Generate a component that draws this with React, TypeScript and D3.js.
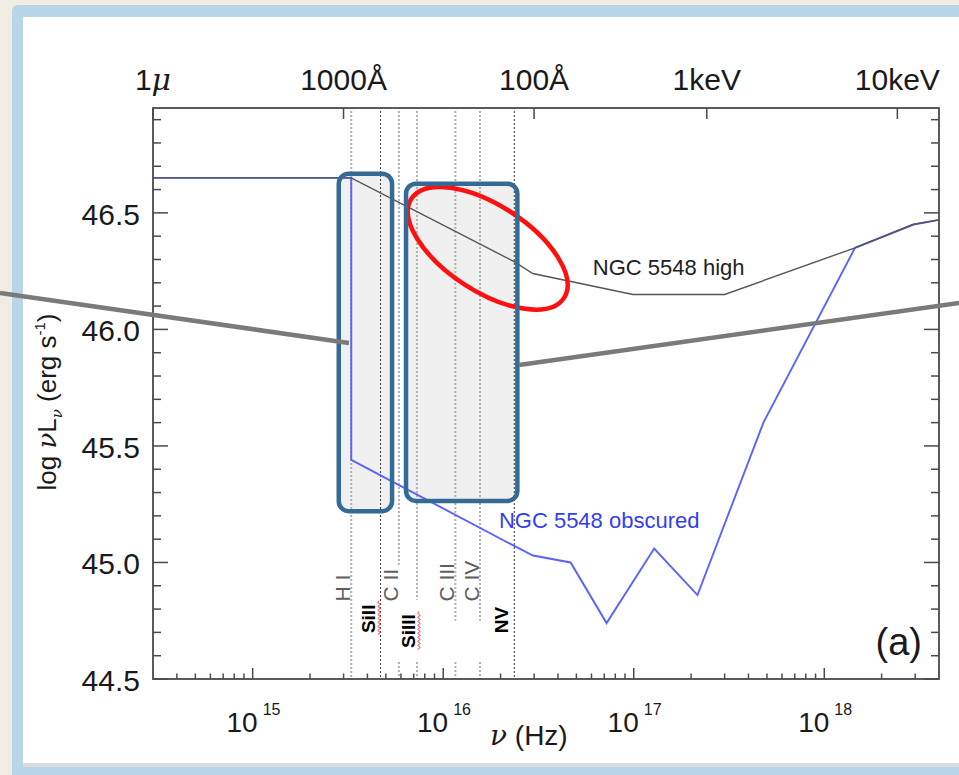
import React from 'react';
import * as d3 from 'd3';

// SED of NGC 5548, unobscured (high) state: frequency (Hz) and log nuL_nu
const highNu = [3.0e14, 3.29e15, 2.37e16, 2.95e16, 9.9e16, 3.0e17, 1.45e18, 2.92e18, 4.0e18];
const highL = [46.65, 46.65, 46.29, 46.24, 46.15, 46.15, 46.35, 46.45, 46.47];

// obscured state
const obsNu = [3.0e14, 3.29e15, 3.29e15, 2.37e16, 2.96e16, 4.66e16, 7.2e16, 1.28e17, 2.16e17, 4.79e17, 1.45e18, 2.94e18, 4.0e18];
const obsL = [46.65, 46.65, 45.44, 45.07, 45.03, 45.0, 44.74, 45.06, 44.86, 45.6, 46.35, 46.45, 46.47];

// axes
const yMajor = [44.5, 45.0, 45.5, 46.0, 46.5];
const xDecades = [15, 16, 17, 18];
const topTickNu = [2.998e14, 2.998e15, 2.998e16, 2.418e17, 2.418e18];
const topTickLabels = ['1', '1000Å', '100Å', '1keV', '10keV'];

// ionisation edges
const edgeNu = [3.29e15, 4.69e15, 5.85e15, 7.28e15, 1.158e16, 1.56e16, 2.36e16];
const edgeLabels = ['H I', 'SiII', 'C II', 'SiIII', 'C III', 'C IV', 'NV'];
const edgeDashed = [false, true, false, false, false, false, true];
const edgeBreak = [null, null, 44.99, 44.84, 44.75, 44.75, null];

// annotation boxes [nuLo, nuHi, Llo, Lhi]
const boxes = [
  [2.83e15, 5.39e15, 45.22, 46.668],
  [6.38e15, 2.45e16, 45.264, 46.625],
];
// callout lines [nu1, L1, nu2, L2]
const callouts = [
  [4.72e13, 46.156, 3.2e15, 45.942],
  [2.5e16, 45.847, 5.1e18, 46.113],
];
const ellipseCenter = [1.712e16, 46.348];

const FONT = '"Liberation Sans", Arial, Helvetica, sans-serif';
const GREEK = '"DejaVu Serif", serif';

function squiggle(xp: number, ya: number, yb: number) {
  let d = `M${xp},${ya}`;
  let k = 0;
  for (let yy = ya; yy < yb; yy += 2, k++) d += `L${xp + (k % 2 ? 1.3 : -1.3)},${yy + 2}`;
  return d;
}

export default function App() {
  const x = d3.scaleLog().domain([2.998e14, 4.0e18]).range([153, 939]);
  const y = d3.scaleLinear().domain([44.5, 46.95]).range([679, 108]);
  const [xl, xr] = x.range();
  const [yb, yt] = y.range();

  const line = d3.line<[number, number]>().x(d => x(d[0])).y(d => y(d[1]));
  const highPts = highNu.map((n, i) => [n, highL[i]] as [number, number]);
  const obsPts = obsNu.map((n, i) => [n, obsL[i]] as [number, number]);

  const yMinor = d3.range(0, 25).map(i => 44.5 + i * 0.1);
  const xTicks = x.ticks().filter(t => x(t) > xl + 1 && x(t) < xr - 1);
  const isMajor = (t: number) => Math.abs(Math.log10(t) - Math.round(Math.log10(t))) < 1e-6;

  const axisColor = '#4a4a4a';

  return (
    <svg width={959} height={775} style={{ position: 'absolute', left: 0, top: 0 }} fontFamily={FONT}>
      {/* slide frame */}
      <rect x={0} y={0} width={959} height={775} fill="#f1ede5" />
      <rect x={12} y={5} width={970} height={790} rx={6} fill="#b9d5ea" />
      <rect x={23} y={17} width={950} height={750} fill="#dcdcdc" />
      <rect x={23} y={17} width={950} height={746} fill="#ffffff" />

      {/* box fills */}
      {boxes.map((b, i) => (
        <rect key={'bf' + i} x={x(b[0])} y={y(b[3])} width={x(b[1]) - x(b[0])} height={y(b[2]) - y(b[3])}
          rx={10} fill="#f0f0f0" />
      ))}

      {/* edge lines */}
      {edgeNu.map((n, i) => {
        const xp = x(n);
        if (edgeDashed[i]) {
          return <line key={'e' + i} x1={xp} x2={xp} y1={yt + 3} y2={yb} stroke="#333" strokeWidth={1}
            strokeDasharray="2 2" />;
        }
        const br = edgeBreak[i];
        const st = { stroke: '#b0b0b0', strokeWidth: 2, strokeDasharray: '2 2' };
        return br === null ? (
          <line key={'e' + i} x1={xp} x2={xp} y1={yt + 3} y2={yb} {...st} />
        ) : (
          <g key={'e' + i}>
            <line x1={xp} x2={xp} y1={yt + 3} y2={y(br)} {...st} />
            <line x1={xp} x2={xp} y1={y(44.573)} y2={yb} {...st} />
          </g>
        );
      })}

      {/* edge labels */}
      {edgeLabels.map((lab, i) => {
        const xp = x(edgeNu[i]);
        const bold = edgeDashed[i] || lab === 'SiIII';
        const dx = lab === 'SiII' || lab === 'NV' ? -6 : lab === 'SiIII' ? -2 : -1;
        const yStart = lab === 'SiII' ? y(44.697) : lab === 'SiIII' ? y(44.633) : lab === 'NV' ? y(44.696) : y(44.832);
        return (
          <text key={'l' + i} transform={`translate(${xp + dx},${yStart}) rotate(-90)`}
            fontSize={bold ? 19 : 21} fontWeight={bold ? 'bold' : 'normal'} fill={bold ? '#000' : '#5e5e5e'}>
            {lab}
          </text>
        );
      })}
      <path d={squiggle(x(edgeNu[1]) - 1.5, y(44.837), y(44.697))} fill="none" stroke="#ff4040" strokeWidth={1} />
      <path d={squiggle(x(edgeNu[3]) + 2, y(44.79), y(44.633))} fill="none" stroke="#ff4040" strokeWidth={1} />

      {/* curves */}
      <path d={line(obsPts) || ''} fill="none" stroke="#5a62ff" strokeWidth={1.9} />
      <path d={line(highPts) || ''} fill="none" stroke="#555" strokeWidth={1.4} />
      <text x={x(6.1e16)} y={y(46.233)} fontSize={22} fill="#222">NGC 5548 high</text>
      <text x={x(1.96e16)} y={y(45.148)} fontSize={22} fill="#3340f0">NGC 5548 obscured</text>

      {/* frame & ticks */}
      <rect x={xl} y={yt} width={xr - xl} height={yb - yt} fill="none" stroke={axisColor} strokeWidth={1.8} />
      {yMinor.map((v, i) => {
        const len = yMajor.some(m => Math.abs(m - v) < 1e-6) ? 15 : 8;
        return (
          <g key={'yt' + i} stroke={axisColor} strokeWidth={1.5}>
            <line x1={xl} x2={xl + len} y1={y(v)} y2={y(v)} />
            <line x1={xr} x2={xr - len} y1={y(v)} y2={y(v)} />
          </g>
        );
      })}
      {yMajor.map(v => (
        <text key={'yl' + v} x={xl - 13} y={y(v) + 12} textAnchor="end" fontSize={30} fill="#1a1a1a">
          {v.toFixed(1)}
        </text>
      ))}
      {xTicks.map((t, i) => (
        <line key={'xt' + i} x1={x(t)} x2={x(t)} y1={yb} y2={yb - (isMajor(t) ? 11 : 5.5)}
          stroke={axisColor} strokeWidth={1.5} />
      ))}
      {xDecades.map(e => {
        const xp = x(Math.pow(10, e));
        return (
          <g key={'xl' + e} fill="#1a1a1a">
            <text x={xp + 5} y={732} textAnchor="end" fontSize={28}>10</text>
            <text x={xp + 10} y={714.5} fontSize={16}>{e}</text>
          </g>
        );
      })}
      {topTickNu.map((n, i) => (
        <g key={'tt' + i}>
          <line x1={x(n)} x2={x(n)} y1={yt} y2={yt + 11} stroke={axisColor} strokeWidth={1.5} />
          <text x={x(n)} y={90} textAnchor="middle" fontSize={30} fill="#1a1a1a">
            {topTickLabels[i]}
            {i === 0 && <tspan fontFamily={GREEK} fontStyle="italic">μ</tspan>}
          </text>
        </g>
      ))}

      {/* axis titles */}
      <text x={490} y={745} fontSize={28} fill="#1a1a1a">
        <tspan fontFamily={GREEK} fontStyle="italic">ν</tspan> (Hz)
      </text>
      <text transform="translate(56,402) rotate(-90)" textAnchor="middle" fontSize={26} fill="#1a1a1a">
        log{' '}
        <tspan fontFamily={GREEK} fontStyle="italic">ν</tspan>L
        <tspan fontFamily={GREEK} fontStyle="italic" fontSize={15} dy={6}>ν</tspan>
        <tspan dy={-6}>{' (erg s'}</tspan>
        <tspan fontSize={15} dy={-11}>-1</tspan>
        <tspan dy={11}>)</tspan>
      </text>
      <text x={xr - 17} y={yb - 24} textAnchor="end" fontSize={38} fill="#1a1a1a">(a)</text>

      {/* annotations */}
      <ellipse cx={x(ellipseCenter[0])} cy={y(ellipseCenter[1])} rx={91} ry={43}
        transform={`rotate(33,${x(ellipseCenter[0])},${y(ellipseCenter[1])})`}
        fill="none" stroke="#ff1010" strokeWidth={4.5} />
      {boxes.map((b, i) => (
        <rect key={'bs' + i} x={x(b[0])} y={y(b[3])} width={x(b[1]) - x(b[0])} height={y(b[2]) - y(b[3])}
          rx={10} fill="none" stroke="#336b96" strokeWidth={4.5} />
      ))}
      {callouts.map((c, i) => (
        <line key={'c' + i} x1={x(c[0])} y1={y(c[1])} x2={x(c[2])} y2={y(c[3])}
          stroke="#7a7a7a" strokeWidth={4.5} />
      ))}
    </svg>
  );
}
